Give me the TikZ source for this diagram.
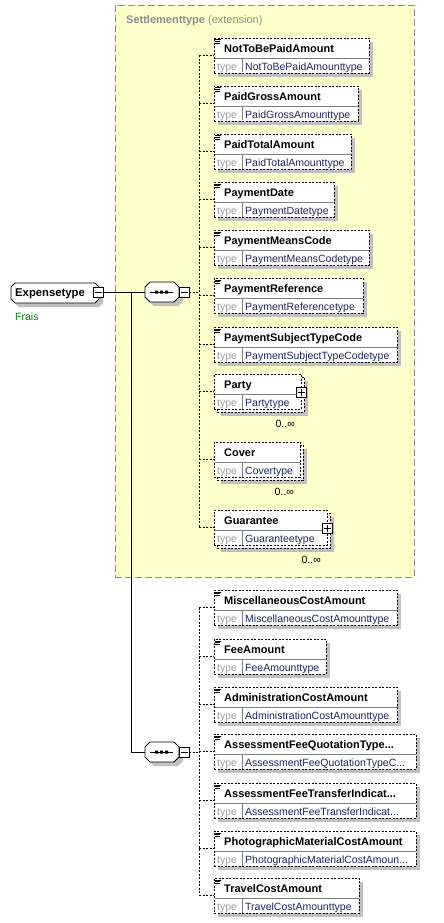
\documentclass[tikz,border=0pt]{standalone}
\usepackage{fontspec}
\setmainfont{Liberation Sans}
\definecolor{yel}{RGB}{255,255,204}
\definecolor{yelb}{RGB}{140,140,140}
\definecolor{shadowc}{RGB}{192,192,192}
\definecolor{typec}{RGB}{30,40,90}
\definecolor{lblc}{RGB}{160,160,160}
\definecolor{divc}{RGB}{128,128,128}
\definecolor{hdrc}{RGB}{140,140,140}
\definecolor{grn}{RGB}{0,128,0}
\newcommand{\xicon}[1]{%
  \draw[line width=0.6pt] (215,#1+1.8) -- (221,#1+1.8) (215,#1+3.4) -- (220,#1+3.4) (215,#1+5) -- (220,#1+5);}
\newcommand{\xelbody}[5]{%
  \node[ebox,minimum width={#3-214},anchor=north west] (#1) at (214,#2) {};
  \draw[divline] (214.5,#2+20) -- (#3-0.5,#2+20) (242,#2+20) -- (242,#2+34.5);
  \node[ntext] (#1n) at (224,#2+14.5) {#4};
  \node[ltext] (#1l) at (217,#2+32.5) {type};
  \node[ttext] (#1t) at (245,#2+32.5) {#5};}
\newcommand{\xel}[5]{%
  \fill[shadowc] (218,#2+4) rectangle (#3+4,#2+39);
  \xelbody{#1}{#2}{#3}{#4}{#5}\xicon{#2}}
\newcommand{\xelm}[5]{%
  \fill[shadowc] (221,#2+7) rectangle (#3+7,#2+42);
  \draw[ebackbox] (217,#2+3) rectangle (#3+3,#2+38);
  \xelbody{#1}{#2}{#3}{#4}{#5}
  \node[mult] (#1x) at (#3-6,#2+53) {0..∞};}
\newcommand{\xplus}[3]{% id, x, y
  \node[pmbox] (#1) at (#2,#3) {};
  \draw[line width=0.7pt] (#2-3.5,#3) -- (#2+3.5,#3) (#2,#3-3.5) -- (#2,#3+3.5);}
\newcommand{\xminus}[3]{%
  \node[pmbox] (#1) at (#2,#3) {};
  \draw[line width=0.7pt] (#2-3.5,#3) -- (#2+3.5,#3);}
\newcommand{\xcomp}[2]{% id, cy
  \fill[shadowc] (154,#2-6) -- (178,#2-6) -- (183,#2-1) -- (183,#2+9) -- (178,#2+14) -- (154,#2+14) -- (149,#2+9) -- (149,#2-1) -- cycle;
  \draw[line width=0.8pt,fill=white] (150,#2-10) -- (174,#2-10) -- (179,#2-5) -- (179,#2+5) -- (174,#2+10) -- (150,#2+10) -- (145,#2+5) -- (145,#2-5) -- cycle;
  \node[draw=none,minimum width=34,minimum height=20,inner sep=0,outer sep=0] (#1) at (162,#2) {};
  \draw[line width=0.8pt] (150,#2) -- (173,#2);
  \fill (155,#2-1.5) rectangle (158,#2+1.5) (160,#2-1.5) rectangle (163,#2+1.5) (165,#2-1.5) rectangle (168,#2+1.5);
  \xminus{#1m}{184}{#2}}
\begin{document}
\begin{tikzpicture}[x=1pt,y=-1pt,
  ebox/.style={rectangle,draw=black,fill=white,dash pattern=on 2pt off 1.5pt,line width=0.7pt,minimum height=35,inner sep=0,outer sep=0},
  ebackbox/.style={draw=black,fill=white,dash pattern=on 2pt off 1.5pt,line width=0.7pt},
  divline/.style={draw=divc,line width=0.6pt},
  ntext/.style={anchor=base west,inner sep=0,font=\fontsize{11}{13}\selectfont\bfseries},
  ltext/.style={anchor=base west,inner sep=0,text=lblc,font=\fontsize{10.5}{12}\selectfont},
  ttext/.style={anchor=base west,inner sep=0,text=typec,font=\fontsize{10.5}{12}\selectfont},
  mult/.style={anchor=base east,inner sep=0,font=\fontsize{10.5}{12}\selectfont},
  pmbox/.style={rectangle,draw=black,fill=white,line width=0.7pt,minimum size=10,inner sep=0,outer sep=0},
  conn/.style={line width=0.8pt},
  dconn/.style={line width=0.8pt,dash pattern=on 2pt off 1.5pt}]
\useasboundingbox (0,0) rectangle (444,923);
% extension box
\node[rectangle,draw=yelb,fill=yel,dash pattern=on 7pt off 3pt,line width=0.8pt,minimum width=299,minimum height=572,inner sep=0,anchor=north west] (ext) at (115,5) {};
\node[anchor=base west,inner sep=0,text=hdrc,font=\fontsize{11}{13}\selectfont] (hdr) at (126,23.3) {\textbf{Settlementtype} (extension)};
% root element
\fill[shadowc] (19,287) -- (99,287) -- (103,291) -- (103,303) -- (99,307) -- (19,307) -- (15,303) -- (15,291) -- cycle;
\draw[line width=0.8pt,fill=white] (15,283) -- (95,283) -- (99,287) -- (99,299) -- (95,303) -- (15,303) -- (11,299) -- (11,287) -- cycle;
\node[draw=none,minimum width=88,minimum height=20,inner sep=0,outer sep=0] (root) at (55,293) {};
\node[anchor=base west,inner sep=0,font=\fontsize{11.3}{13}\selectfont\bfseries] (rootn) at (15,296.5) {Expensetype};
\xminus{rootm}{98.5}{292}
\node[anchor=base west,inner sep=0,text=grn,font=\fontsize{10.5}{12}\selectfont] (frais) at (15,320) {Frais};
% compositors
\xcomp{c1}{292}
\xcomp{c2}{752}
\coordinate (spine) at (131,0);
\coordinate (bus) at (199,0);
\draw[conn] (rootm.east) -- (c1.west);
\draw[conn] (spine |- c1.west) -- (spine |- c2.west) -- (c2.west);
% elements group 1
\xel{e1}{38}{369}{NotToBePaidAmount}{NotToBePaidAmounttype}
\xel{e2}{86}{358}{PaidGrossAmount}{PaidGrossAmounttype}
\xel{e3}{134}{351}{PaidTotalAmount}{PaidTotalAmounttype}
\xel{e4}{182}{334}{PaymentDate}{PaymentDatetype}
\xel{e5}{230}{369}{PaymentMeansCode}{PaymentMeansCodetype}
\xel{e6}{278}{363}{PaymentReference}{PaymentReferencetype}
\xel{e7}{327}{397}{PaymentSubjectTypeCode}{PaymentSubjectTypeCodetype}
\xelm{e8}{374}{301}{Party}{Partytype}
\xplus{e8p}{301}{392}
\xelm{e9}{442}{300}{Cover}{Covertype}
\xelm{e10}{510}{327}{Guarantee}{Guaranteetype}
\xplus{e10p}{327}{528}
% elements group 2
\xel{f1}{590}{397}{MiscellaneousCostAmount}{MiscellaneousCostAmounttype}
\xel{f2}{639}{326}{FeeAmount}{FeeAmounttype}
\xel{f3}{687}{397}{AdministrationCostAmount}{AdministrationCostAmounttype}
\xel{f4}{734}{416}{AssessmentFeeQuotationType...}{AssessmentFeeQuotationTypeC...}
\xel{f5}{783}{416}{AssessmentFeeTransferIndicat...}{AssessmentFeeTransferIndicat...}
\xel{f6}{831}{416}{PhotographicMaterialCostAmount}{PhotographicMaterialCostAmoun...}
\xel{f7}{878}{359}{TravelCostAmount}{TravelCostAmounttype}
% dashed connectors group 1
\draw[dconn] (c1m.east) -- (bus |- c1m.east);
\draw[dconn] (bus |- e1.west) -- (bus |- e10.west);
\foreach \e in {e1,e2,e3,e4,e5,e6,e7,e8,e9,e10} \draw[dconn] (bus |- \e.west) -- (\e.west);
% dashed connectors group 2
\draw[dconn] (c2m.east) -- (bus |- c2m.east);
\draw[dconn] (bus |- f1.west) -- (bus |- f7.west);
\foreach \e in {f1,f2,f3,f4,f5,f6,f7} \draw[dconn] (bus |- \e.west) -- (\e.west);
\end{tikzpicture}
\end{document}
